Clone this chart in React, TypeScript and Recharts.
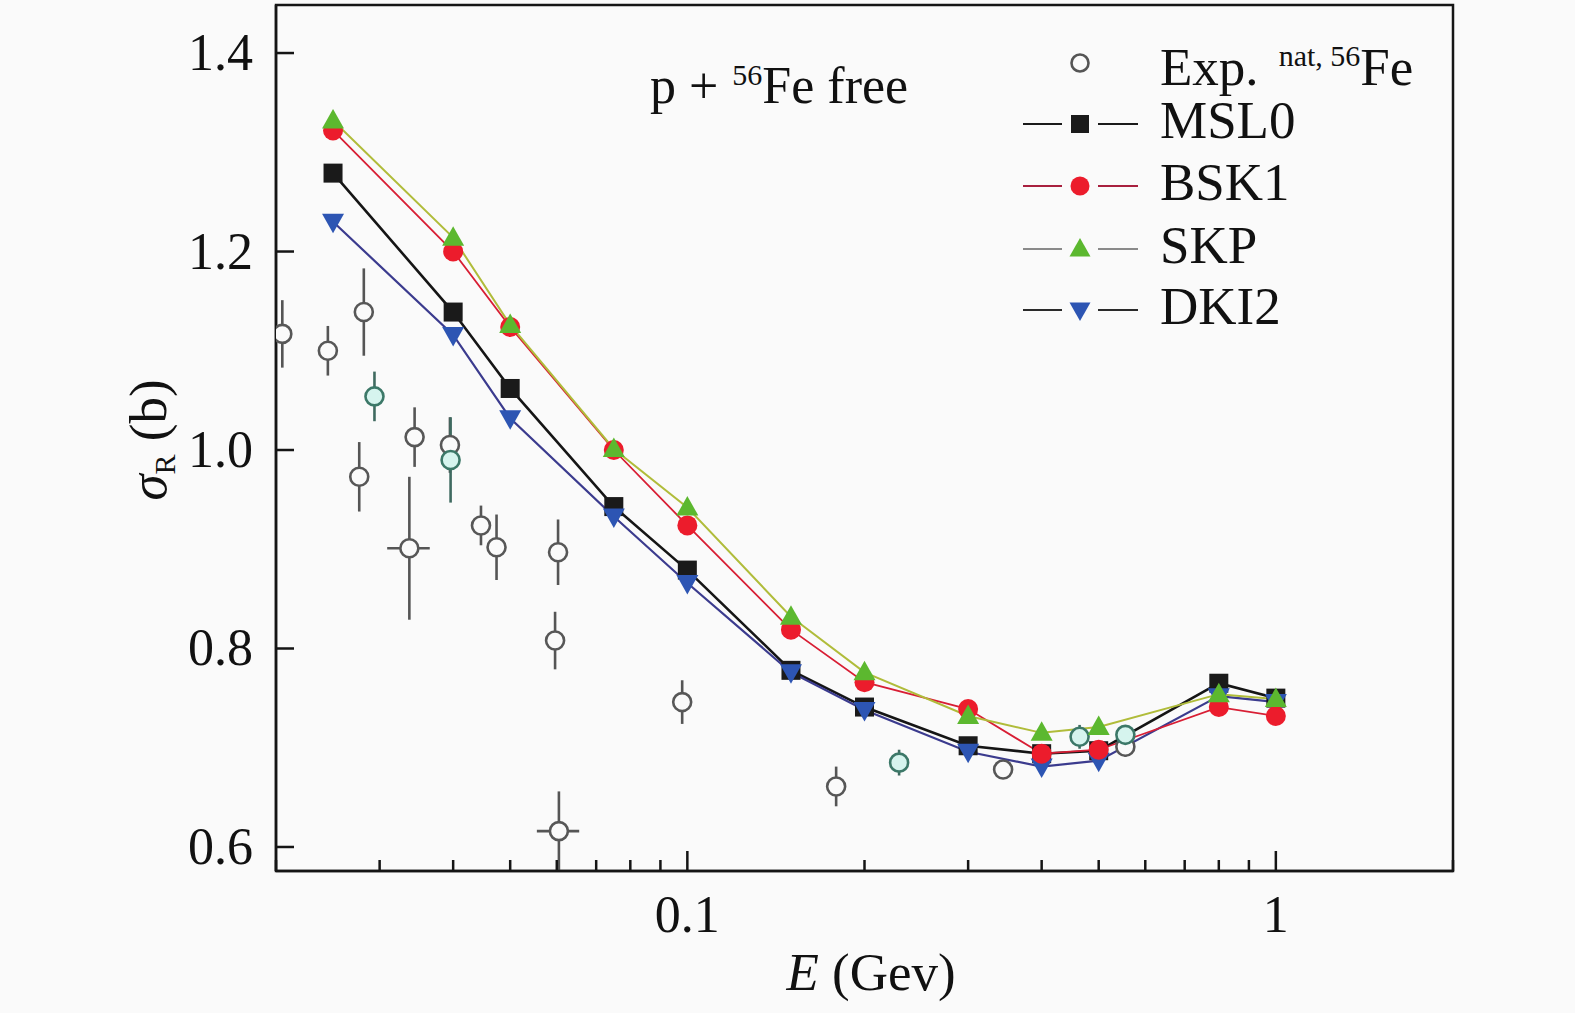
import React from 'react';
import { ComposedChart, Line, Scatter, XAxis, YAxis, ErrorBar, ReferenceArea, Legend } from 'recharts';

const FONT = '"Liberation Serif", "Times New Roman", serif';

// Model energies (GeV)
const energies = [0.025, 0.04, 0.05, 0.075, 0.1, 0.15, 0.2, 0.3, 0.4, 0.5, 0.8, 1.0];
const msl0 = [1.279, 1.139, 1.062, 0.943, 0.879, 0.778, 0.741, 0.702, 0.694, 0.697, 0.765, 0.750];
const bsk1 = [1.322, 1.200, 1.124, 1.000, 0.924, 0.819, 0.766, 0.739, 0.694, 0.698, 0.741, 0.732];
const skp = [1.332, 1.214, 1.126, 1.001, 0.942, 0.832, 0.776, 0.732, 0.715, 0.721, 0.754, 0.749];
const dki2 = [1.230, 1.116, 1.032, 0.933, 0.866, 0.776, 0.738, 0.696, 0.681, 0.687, 0.752, 0.746];

// Experimental (grey)
const expGreyE = [0.0205, 0.0245, 0.0282, 0.0277, 0.0344, 0.0337, 0.0395, 0.0446, 0.0474, 0.0603, 0.0596, 0.0605, 0.098, 0.179, 0.344, 0.555];
const expGreyS = [1.117, 1.100, 1.139, 0.973, 1.013, 0.901, 1.005, 0.924, 0.902, 0.897, 0.808, 0.616, 0.746, 0.661, 0.678, 0.701];
const expGreyErr = [0.034, 0.025, 0.044, 0.035, 0.030, 0.072, 0.028, 0.020, 0.033, 0.033, 0.029, 0.040, 0.022, 0.020, 0.008, 0.010];
const expGreyXErr = [0, 0, 0, 0, 0, 0.0028, 0, 0, 0, 0, 0, 0.005, 0, 0, 0, 0];

// Experimental (teal)
const expTealE = [0.0294, 0.0396, 0.229, 0.464, 0.555];
const expTealS = [1.054, 0.990, 0.685, 0.711, 0.713];
const expTealErr = [0.025, 0.043, 0.013, 0.012, 0.008];

const xTicks = [0.02, 0.03, 0.04, 0.05, 0.06, 0.07, 0.08, 0.09, 0.1, 0.2, 0.3, 0.4, 0.5, 0.6, 0.7, 0.8, 0.9, 1, 2];
const xMajor: Record<string, string> = { '0.1': '0.1', '1': '1' };
const yTicks = [0.6, 0.8, 1.0, 1.2, 1.4];
const yDomain = [0.5758, 1.4484];
const xDomain = [0.02, 2];

const toSeries = (vals: number[]) => energies.map((e, i) => ({ e, s: vals[i] }));
const msl0Data = toSeries(msl0);
const bsk1Data = toSeries(bsk1);
const skpData = toSeries(skp);
const dki2Data = toSeries(dki2);
const greyData = expGreyE.map((e, i) => ({ e, s: expGreyS[i], err: expGreyErr[i], xerr: expGreyXErr[i] }));
const tealData = expTealE.map((e, i) => ({ e, s: expTealS[i], err: expTealErr[i] }));

const AXIS = '#151515';

const XTick = (props: any) => {
  const { x, y, payload } = props;
  const label = xMajor[String(payload.value)];
  const major = label !== undefined;
  return (
    <g>
      <line x1={x} x2={x} y1={y} y2={y - (major ? 20 : 11)} stroke={AXIS} strokeWidth={2.5} />
      {major && (
        <text x={x} y={y + 61} textAnchor="middle" fontSize={52} fontFamily={FONT} fill="#111">
          {label}
        </text>
      )}
    </g>
  );
};

const YTick = (props: any) => {
  const { x, y, payload } = props;
  return (
    <g>
      <line x1={x} x2={x + 18} y1={y} y2={y} stroke={AXIS} strokeWidth={2.5} />
      <text x={x - 23} y={y + 17} textAnchor="end" fontSize={52} fontFamily={FONT} fill="#111">
        {Number(payload.value).toFixed(1)}
      </text>
    </g>
  );
};

const square = (fill: string) => (p: any) => {
  const { cx, cy, index } = p;
  return <rect key={`sq${index}`} x={cx - 9.5} y={cy - 9.5} width={19} height={19} fill={fill} />;
};
const disc = (fill: string) => (p: any) => {
  const { cx, cy, index } = p;
  return <circle key={`ci${index}`} cx={cx} cy={cy} r={10} fill={fill} />;
};
const triUp = (fill: string) => (p: any) => {
  const { cx, cy, index } = p;
  return <polygon key={`tu${index}`} points={`${cx},${cy - 11.5} ${cx - 11},${cy + 8} ${cx + 11},${cy + 8}`} fill={fill} />;
};
const triDown = (fill: string) => (p: any) => {
  const { cx, cy, index } = p;
  return <polygon key={`td${index}`} points={`${cx - 11},${cy - 8} ${cx + 11},${cy - 8} ${cx},${cy + 11.5}`} fill={fill} />;
};

const hollow = (stroke: string, fill: string) => (p: any) => {
  const { cx, cy } = p;
  return <circle cx={cx} cy={cy} r={9} stroke={stroke} strokeWidth={2.6} fill={fill} />;
};

const C_MSL0 = '#1a1a1a';
const C_BSK1 = '#ec1c2c';
const C_SKP = '#5cb82f';
const C_DKI2 = '#2d55b3';

const LegendBox = () => {
  const rows = [
    { name: 'MSL0', line: '#1a1a1a', y: 104, marker: 'sq' },
    { name: 'BSK1', line: '#a8203e', y: 166, marker: 'ci' },
    { name: 'SKP', line: '#8a8a8a', y: 229, marker: 'tu' },
    { name: 'DKI2', line: '#2a2a2a', y: 290, marker: 'td' },
  ];
  const mx = 480;
  return (
    <svg width={860} height={320} style={{ overflow: 'visible' }}>
      <text x={50} y={83} fontSize={52} fontFamily={FONT} fill="#111">
        p +<tspan dx={14} dy={-18} fontSize={30}>56</tspan>
        <tspan dy={18} fontSize={52}>Fe free</tspan>
      </text>
      <circle cx={mx} cy={43} r={8.5} stroke="#555" strokeWidth={2.6} fill="#fafafa" />
      <text x={560} y={65} fontSize={53} fontFamily={FONT} fill="#111">
        Exp.<tspan dx={20} dy={-19} fontSize={30}>nat, 56</tspan>
        <tspan dy={19} fontSize={53}>Fe</tspan>
      </text>
      {rows.map((r) => (
        <g key={r.name}>
          <line x1={423} x2={462} y1={r.y} y2={r.y} stroke={r.line} strokeWidth={2.2} />
          <line x1={498} x2={538} y1={r.y} y2={r.y} stroke={r.line} strokeWidth={2.2} />
          {r.marker === 'sq' && <rect x={mx - 9} y={r.y - 9} width={18} height={18} fill={C_MSL0} />}
          {r.marker === 'ci' && <circle cx={mx} cy={r.y} r={9.5} fill={C_BSK1} />}
          {r.marker === 'tu' && (
            <polygon points={`${mx},${r.y - 11} ${mx - 10.5},${r.y + 7.5} ${mx + 10.5},${r.y + 7.5}`} fill={C_SKP} />
          )}
          {r.marker === 'td' && (
            <polygon points={`${mx - 10.5},${r.y - 7.5} ${mx + 10.5},${r.y - 7.5} ${mx},${r.y + 11}`} fill={C_DKI2} />
          )}
          <text x={560} y={r.y + 14} fontSize={53} fontFamily={FONT} fill="#111">
            {r.name}
          </text>
        </g>
      ))}
    </svg>
  );
};

const XLabel = () => (
  <text x={871} y={990} textAnchor="middle" fontSize={53} fontFamily={FONT} fill="#111">
    <tspan fontStyle="italic">E</tspan>
    <tspan> (Gev)</tspan>
  </text>
);

const YLabel = () => (
  <text transform="translate(166,440) rotate(-90)" x={0} y={0} textAnchor="middle" fontSize={53} fontFamily={FONT} fill="#111">
    <tspan fontStyle="italic">σ</tspan>
    <tspan fontSize={30} dy={9}>R</tspan>
    <tspan dy={-9}> (b)</tspan>
  </text>
);

export default function App() {
  return (
    <div style={{ position: 'absolute', left: 0, top: 0, width: 1575, height: 1013, background: '#fafafa', fontFamily: FONT }}>
      <ComposedChart width={1575} height={1013} margin={{ top: 5, right: 122, bottom: 0, left: 0 }}>
        <XAxis
          type="number"
          dataKey="e"
          scale="log"
          domain={xDomain}
          allowDataOverflow
          ticks={xTicks}
          interval={0}
          tickLine={false}
          tickSize={0}
          tickMargin={0}
          tick={<XTick />}
          axisLine={{ stroke: AXIS, strokeWidth: 2.5 }}
          height={142}
          label={<XLabel />}
        />
        <YAxis
          type="number"
          dataKey="s"
          domain={yDomain}
          allowDataOverflow
          ticks={yTicks}
          interval={0}
          tickLine={false}
          tickSize={0}
          tickMargin={0}
          tick={<YTick />}
          axisLine={{ stroke: AXIS, strokeWidth: 2.5 }}
          width={276}
          label={<YLabel />}
        />
        <ReferenceArea
          x1={xDomain[0]}
          x2={xDomain[1]}
          y1={yDomain[0]}
          y2={yDomain[1]}
          fill="none"
          fillOpacity={0}
          stroke={AXIS}
          strokeWidth={2.5}
          ifOverflow="visible"
        />
        <Scatter data={greyData} dataKey="s" shape={hollow('#575757', '#fafafa')} isAnimationActive={false}>
          <ErrorBar dataKey="err" direction="y" width={0} stroke="#555" strokeWidth={2.6} />
          <ErrorBar dataKey="xerr" direction="x" width={0} stroke="#555" strokeWidth={2.6} />
        </Scatter>
        <Scatter data={tealData} dataKey="s" shape={hollow('#3c7868', '#d6f4ee')} isAnimationActive={false}>
          <ErrorBar dataKey="err" direction="y" width={0} stroke="#3f6a60" strokeWidth={2.6} />
        </Scatter>
        <Line data={msl0Data} dataKey="s" type="linear" stroke="#151515" strokeWidth={2.6} dot={square(C_MSL0)} activeDot={false} isAnimationActive={false} />
        <Line data={dki2Data} dataKey="s" type="linear" stroke="#3b3b8e" strokeWidth={2.2} dot={triDown(C_DKI2)} activeDot={false} isAnimationActive={false} />
        <Line data={bsk1Data} dataKey="s" type="linear" stroke="#d81e34" strokeWidth={1.8} dot={disc(C_BSK1)} activeDot={false} isAnimationActive={false} />
        <Line data={skpData} dataKey="s" type="linear" stroke="#b0bc3a" strokeWidth={2} dot={triUp(C_SKP)} activeDot={false} isAnimationActive={false} />
        <Legend
          layout="vertical"
          align="center"
          verticalAlign="middle"
          wrapperStyle={{ position: 'absolute', left: 600, top: 20, width: 860, height: 320 }}
          content={() => <LegendBox />}
        />
      </ComposedChart>
    </div>
  );
}
